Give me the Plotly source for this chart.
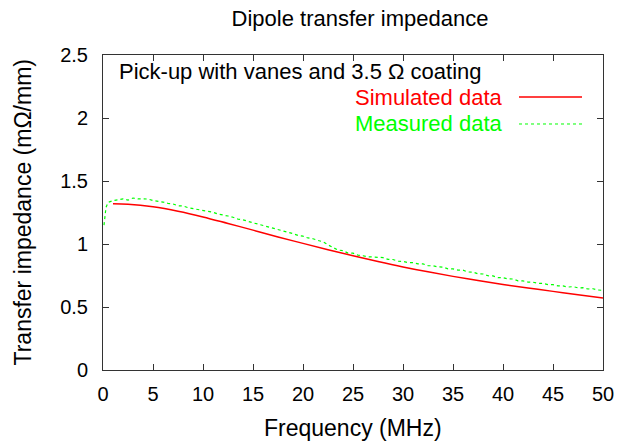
import plotly.graph_objects as go

# Simulated data (MHz, mOhm/mm)
sim_freq = [1.0, 2.5, 5.0, 7.5, 10.0, 12.5, 15.0, 17.5, 20.0, 22.5, 25.0,
            27.5, 30.0, 32.5, 35.0, 37.5, 40.0, 42.5, 45.0, 47.5, 50.0]
sim_val = [1.32, 1.316, 1.295, 1.26, 1.215, 1.163, 1.11, 1.056, 1.005, 0.955, 0.907,
           0.861, 0.818, 0.779, 0.743, 0.71, 0.679, 0.651, 0.624, 0.598, 0.572]

# Measured data
meas_freq = [0.1, 0.3, 0.5] + [i * 0.5 for i in range(2, 101)]
meas_val = [1.15, 1.29, 1.33,
            1.345, 1.35, 1.358, 1.348, 1.365, 1.358, 1.355, 1.357, 1.345,
            1.342, 1.333, 1.322, 1.318, 1.303, 1.302, 1.288, 1.282, 1.272,
            1.268, 1.258, 1.252, 1.238, 1.232, 1.222, 1.212, 1.198, 1.192,
            1.178, 1.168, 1.158, 1.148, 1.138, 1.128, 1.112, 1.102, 1.093,
            1.082, 1.068, 1.062, 1.048, 1.042, 1.028, 1.018, 0.993, 0.972,
            0.952, 0.947, 0.928, 0.927, 0.912, 0.907, 0.898, 0.897, 0.893,
            0.892, 0.878, 0.877, 0.863, 0.862, 0.853, 0.852, 0.843, 0.842,
            0.828, 0.827, 0.818, 0.817, 0.803, 0.802, 0.793, 0.792, 0.778,
            0.777, 0.763, 0.762, 0.748, 0.747, 0.733, 0.732, 0.723, 0.722,
            0.708, 0.707, 0.698, 0.697, 0.688, 0.687, 0.678, 0.677, 0.668,
            0.667, 0.658, 0.662, 0.652, 0.653, 0.643, 0.645, 0.635, 0.632]

x_ticks = [0, 5, 10, 15, 20, 25, 30, 35, 40, 45, 50]
y_ticks = [0, 0.5, 1, 1.5, 2, 2.5]

FONT = "Liberation Sans, Arial, sans-serif"

fig = go.Figure()
fig.add_trace(go.Scatter(x=meas_freq, y=meas_val, mode="lines",
                         line=dict(color="#00ff00", width=1.2, dash="dot"),
                         showlegend=False))
fig.add_trace(go.Scatter(x=sim_freq, y=sim_val, mode="lines",
                         line=dict(color="#ff0000", width=1.5, shape="spline"),
                         showlegend=False))

axis_common = dict(showline=True, linecolor="#333333", linewidth=1, mirror="ticks",
                   ticks="inside", ticklen=6, tickcolor="#333333", showgrid=False,
                   zeroline=False, tickfont=dict(family=FONT, size=20, color="black"))

fig.update_xaxes(range=[0, 50], tickvals=x_ticks, ticklabelstandoff=6, **axis_common)
fig.update_yaxes(range=[0, 2.5], tickvals=y_ticks, ticktext=[f"{v:g}" for v in y_ticks],
                 ticklabelstandoff=10, **axis_common)

fig.update_layout(
    width=625, height=447,
    margin=dict(l=103, r=22, t=55, b=77, autoexpand=False),
    paper_bgcolor="white", plot_bgcolor="white",
    font=dict(family=FONT, color="black"),
    title=dict(text="Dipole transfer impedance", xref="container", x=0.576, xanchor="center",
               yref="container", y=0.958, yanchor="middle",
               font=dict(family=FONT, size=22, color="black")),
    annotations=[
        dict(text="Frequency (MHz)", xref="paper", yref="paper", x=0.5, y=0,
             yshift=-58, xanchor="center", yanchor="middle", showarrow=False,
             font=dict(family=FONT, size=23, color="black")),
        dict(text="Transfer impedance (mΩ/mm)", xref="paper", yref="paper", x=0, y=0.5,
             xshift=-81, xanchor="center", yanchor="middle", textangle=-90, showarrow=False,
             font=dict(family=FONT, size=23, color="black")),
        dict(text="Pick-up with vanes and 3.5 Ω coating", xref="paper", yref="paper",
             x=0.028, y=0.949, xanchor="left", yanchor="middle", showarrow=False,
             font=dict(family=FONT, size=22, color="black")),
        dict(text="Simulated data", xref="paper", yref="paper",
             x=0.804, y=0.864, xanchor="right", yanchor="middle", showarrow=False,
             font=dict(family=FONT, size=22, color="#ff0000")),
        dict(text="Measured data", xref="paper", yref="paper",
             x=0.804, y=0.781, xanchor="right", yanchor="middle", showarrow=False,
             font=dict(family=FONT, size=22, color="#00ff00")),
    ],
    shapes=[
        dict(type="line", xref="paper", yref="paper", x0=0.832, x1=0.958, y0=0.867, y1=0.867,
             line=dict(color="#ff0000", width=1.5)),
        dict(type="line", xref="paper", yref="paper", x0=0.832, x1=0.958, y0=0.781, y1=0.781,
             line=dict(color="#00ff00", width=1, dash="dot")),
    ],
)

fig.write_html("out.html", config={"displayModeBar": False},
               post_script="document.body.style.margin='0';document.body.style.padding='0';")
